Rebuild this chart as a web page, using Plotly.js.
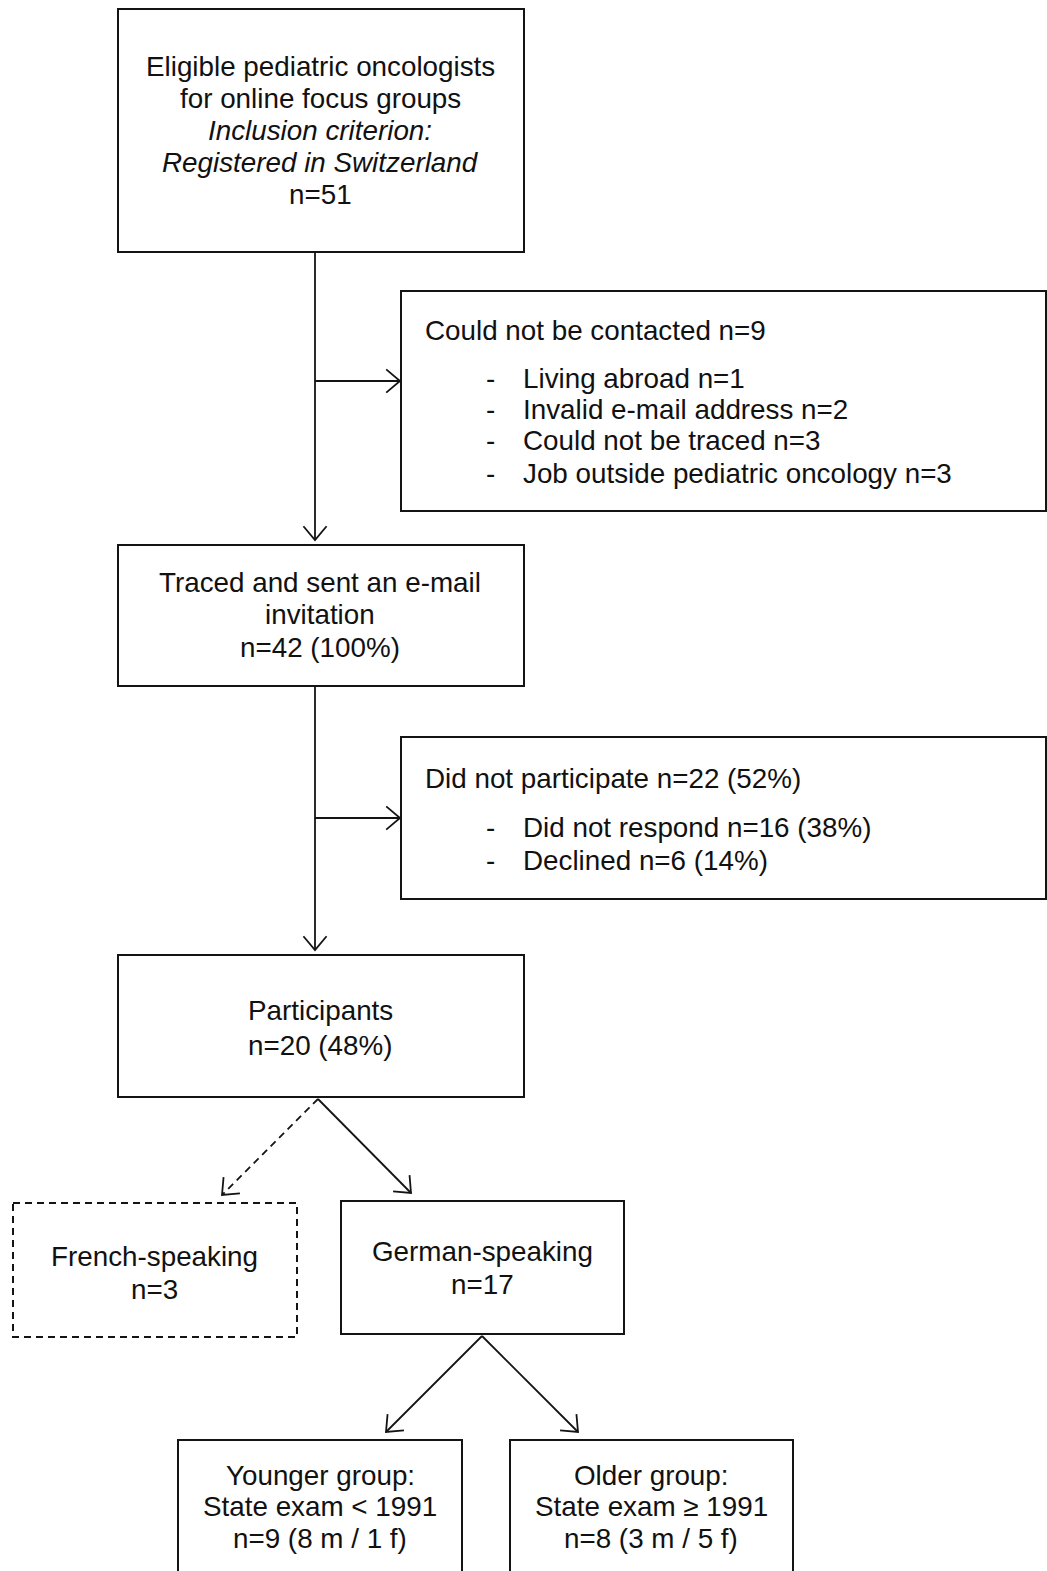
<!DOCTYPE html>
<html>
<head>
<meta charset="utf-8">
<script src="https://cdn.plot.ly/plotly-3.0.1.min.js"></script>
<style>html,body{margin:0;padding:0;background:#fff;}#chart{width:1047px;height:1571px;}</style>
</head>
<body>
<div id="chart"></div>
<script>
// ---- Data (flow stages and counts) ----
const stageNames = ["Eligible", "Not contacted", "Invited", "Not participating", "Participants", "French-speaking", "German-speaking", "Younger group", "Older group"];
const stageCounts = [51, 9, 42, 22, 20, 3, 17, 9, 8];
const notContactedReasons = ["Living abroad", "Invalid e-mail address", "Could not be traced", "Job outside pediatric oncology"];
const notContactedCounts = [1, 2, 3, 3];
const nonParticipationReasons = ["Did not respond", "Declined"];
const nonParticipationCounts = [16, 6];
const nonParticipationPct = [38, 14];
const sexMale = [8, 3];
const sexFemale = [1, 5];

// ---- Layout geometry (pixel coordinates, y downward) ----
const boxes = [
  {x0:118, x1:524, y0:9,   y1:252, dash:"solid"},
  {x0:401, x1:1046, y0:291, y1:511, dash:"solid"},
  {x0:118, x1:524, y0:545, y1:686, dash:"solid"},
  {x0:401, x1:1046, y0:737, y1:899, dash:"solid"},
  {x0:118, x1:524, y0:955, y1:1097, dash:"solid"},
  {x0:13,  x1:297, y0:1203, y1:1337, dash:"7px,5px"},
  {x0:341, x1:624, y0:1201, y1:1334, dash:"solid"},
  {x0:178, x1:462, y0:1440, y1:1580, dash:"solid"},
  {x0:510, x1:793, y0:1440, y1:1580, dash:"solid"}
];
const arrows = [
  {x0:315, y0:252, x1:315, y1:540, dash:"solid"},
  {x0:315, y0:381, x1:400, y1:381, dash:"solid"},
  {x0:315, y0:686, x1:315, y1:950, dash:"solid"},
  {x0:315, y0:818, x1:400, y1:818, dash:"solid"},
  {x0:318, y0:1099, x1:222, y1:1195, dash:"7px,5px"},
  {x0:318, y0:1099, x1:411, y1:1193, dash:"solid"},
  {x0:482, y0:1336, x1:386, y1:1432, dash:"solid"},
  {x0:482, y0:1336, x1:578, y1:1432, dash:"solid"}
];

const LINE = "#141414";
const shapes = [];
boxes.forEach(b => shapes.push({type:"rect", xref:"x", yref:"y", x0:b.x0, x1:b.x1, y0:b.y0, y1:b.y1,
  line:{color:LINE, width:2, dash:b.dash}, fillcolor:"rgba(0,0,0,0)"}));
arrows.forEach(a => {
  shapes.push({type:"line", xref:"x", yref:"y", x0:a.x0, y0:a.y0, x1:a.x1, y1:a.y1, line:{color:LINE, width:1.8, dash:a.dash}});
  const dx = a.x1 - a.x0, dy = a.y1 - a.y0, L = Math.hypot(dx, dy);
  const ux = dx / L, uy = dy / L, len = 18, ang = Math.PI / 4.5;
  const c = Math.cos(ang), s = Math.sin(ang);
  const p1x = a.x1 - len * (ux * c - uy * s), p1y = a.y1 - len * (uy * c + ux * s);
  const p2x = a.x1 - len * (ux * c + uy * s), p2y = a.y1 - len * (uy * c - ux * s);
  shapes.push({type:"path", xref:"x", yref:"y",
    path:`M ${p1x} ${p1y} L ${a.x1} ${a.y1} L ${p2x} ${p2y}`, line:{color:LINE, width:1.8}});
});

const FS = 27.8;
const ann = [];
function t(x, y, text, anchor) {
  ann.push({x:x, y:y, xref:"x", yref:"y", text:text, showarrow:false,
    xanchor:anchor || "center", yanchor:"middle", font:{family:"Liberation Sans, Arial, sans-serif", size:FS, color:"#111"}});
}
// Box 1
t(320, 66, "Eligible pediatric oncologists");
t(320, 98, "for online focus groups");
t(320, 130, "<i>Inclusion criterion:</i>");
t(320, 162, "<i>Registered in Switzerland</i>");
t(320, 194, "n=" + stageCounts[0]);
// Box 2
t(423, 330, "Could not be contacted n=" + stageCounts[1], "left");
notContactedReasons.forEach((r, i) => {
  const yy = [378, 409, 440, 473][i];
  t(484, yy, "-", "left");
  t(521, yy, r + " n=" + notContactedCounts[i], "left");
});
// Box 3
t(320, 582, "Traced and sent an e-mail");
t(320, 614, "invitation");
t(320, 647, "n=" + stageCounts[2] + " (100%)");
// Box 4
t(423, 778, "Did not participate n=" + stageCounts[3] + " (" + Math.round(stageCounts[3] / stageCounts[2] * 100) + "%)", "left");
nonParticipationReasons.forEach((r, i) => {
  const yy = [827, 860][i];
  t(484, yy, "-", "left");
  t(521, yy, r + " n=" + nonParticipationCounts[i] + " (" + nonParticipationPct[i] + "%)", "left");
});
// Box 5
t(320, 1010, "Participants");
t(320, 1045, "n=" + stageCounts[4] + " (" + Math.round(stageCounts[4] / stageCounts[2] * 100) + "%)");
// French / German
t(154, 1256, "French-speaking");
t(154, 1289, "n=" + stageCounts[5]);
t(482, 1251, "German-speaking");
t(482, 1284, "n=" + stageCounts[6]);
// Younger / Older
t(320, 1475, "Younger group:");
t(320, 1506, "State exam &lt; 1991");
t(320, 1538, "n=" + stageCounts[7] + " (" + sexMale[0] + " m / " + sexFemale[0] + " f)");
t(651, 1475, "Older group:");
t(651, 1506, "State exam ≥ 1991");
t(651, 1538, "n=" + stageCounts[8] + " (" + sexMale[1] + " m / " + sexFemale[1] + " f)");

const layout = {
  width:1047, height:1571,
  margin:{l:0, r:0, t:0, b:0},
  paper_bgcolor:"#fff", plot_bgcolor:"#fff",
  xaxis:{range:[0,1047], visible:false, fixedrange:true},
  yaxis:{range:[1571,0], visible:false, fixedrange:true},
  shapes:shapes, annotations:ann, showlegend:false
};
Plotly.newPlot("chart", [{x:[], y:[], type:"scatter", mode:"markers", hoverinfo:"skip"}], layout, {staticPlot:true, displayModeBar:false});
</script>
</body>
</html>
